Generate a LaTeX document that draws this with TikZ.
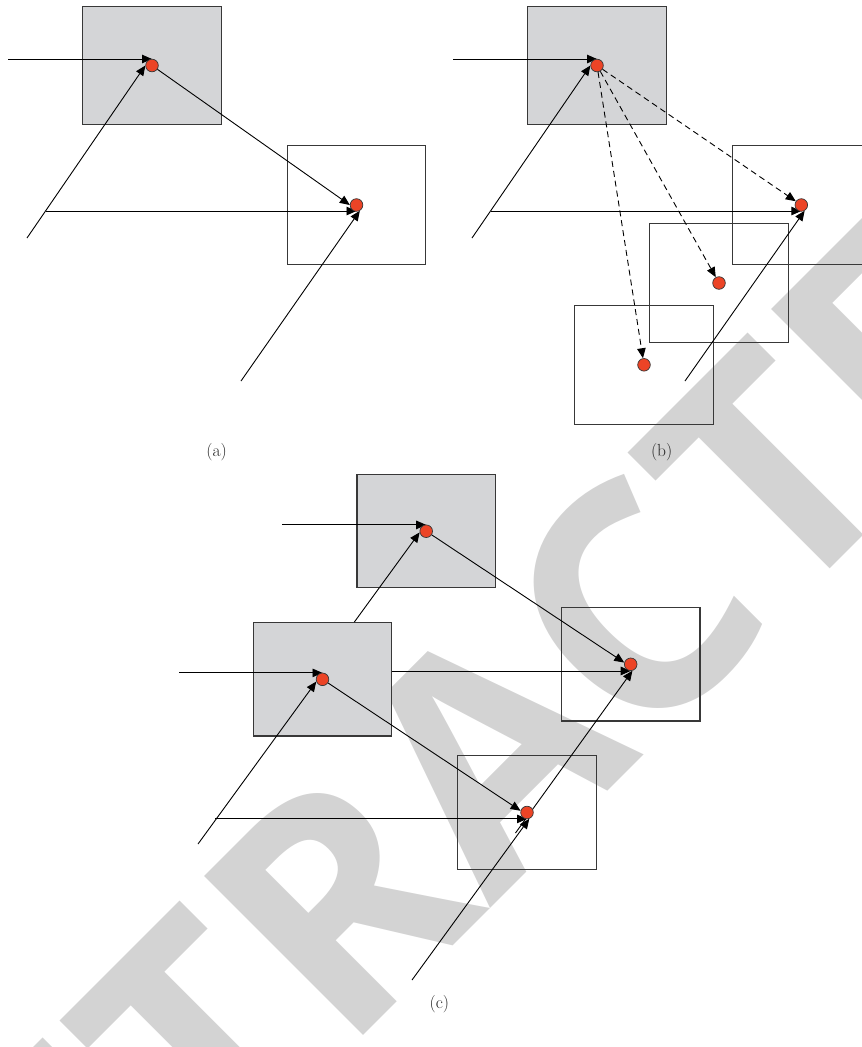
\documentclass[tikz,border=0pt]{standalone}
\usepackage{fontspec}
\usepackage{xcolor}
\usepackage{tikz}
\usetikzlibrary{arrows.meta,calc}
\newfontfamily\stampfont{Open Sans}
\definecolor{boxgray}{HTML}{D4D5D7}
\definecolor{stampgray}{HTML}{D3D3D3}
\definecolor{dotred}{HTML}{EC4426}
\definecolor{rim}{HTML}{383838}
\pgfdeclarelayer{front}
\pgfsetlayers{main,front}
\tikzset{
  openbox/.style={draw=rim,line width=1.1pt,inner sep=0pt,
    minimum width=138.5pt,minimum height=118.6pt},
  graybox/.style={openbox,fill=boxgray},
  cbox/.style={minimum height=113.4pt},
  reddot/.style={circle,draw=rim,line width=.7pt,fill=dotred,
    inner sep=0pt,minimum size=12.6pt},
  arr/.style={draw=black,line width=.9pt,-{Triangle[length=10pt,width=8.5pt]}},
  dasharr/.style={arr,dash pattern=on 6pt off 4pt},
  panel/.style={font=\fontsize{17.5}{20}\selectfont,text=black!85},
  stamp/.style={anchor=base,rotate=45,inner sep=0pt,text=stampgray,
    font=\stampfont\bfseries\fontsize{315}{315}\selectfont}
}

\begin{document}
\begin{tikzpicture}[x=1pt,y=-1pt]
    \useasboundingbox (0,0) rectangle (862,1047);
    \node[stamp] (stamp) at (572,827) {RETRACTED};
    % (a)
    \node[graybox] (a1) at (152,65.5) {};
    \node[openbox] (a2) at (356.5,205) {};
    % (b)
    \node[graybox] (b1) at (597,65.5) {};
    \node[openbox] (b2) at (801.3,205) {};
    \node[openbox] (b3) at (719,283) {};
    \node[openbox] (b4) at (644,364.8) {};
    % (c)
    \node[graybox,cbox] (c1) at (426.2,531.2) {};
    \node[graybox,cbox] (c2) at (322.5,679.3) {};
    \node[openbox,cbox] (c3) at (630.7,664.3) {};
    \node[openbox,cbox] (c4) at (527,812.5) {};
    \begin{pgfonlayer}{front}
      \foreach \b in {a1,a2,b1,b2,b3,b4,c1,c2,c3,c4}
        \node[reddot] (\b-dot) at (\b) {};
    \end{pgfonlayer}

    \coordinate (a1in) at (8,59);
    \coordinate (a1lo) at (27,238);
    \coordinate (a2in) at (46,211);
    \coordinate (a2lo) at (241,381);
    \draw[arr] (a1in) -- (a1in -| a1-dot);
    \draw[arr] (a1lo) -- (a1-dot.west);
    \draw[arr] (a2in) -- (a2in -| a2-dot);
    \draw[arr] (a2lo) -- (a2-dot.-60);
    \draw[arr] (a1-dot) -- (a2-dot.west);

    \coordinate (b1in) at (453,59);
    \coordinate (b1lo) at (472,238);
    \coordinate (b2in) at (491,211);
    \coordinate (b2lo) at (685,381);
    \draw[arr] (b1in) -- (b1in -| b1-dot);
    \draw[arr] (b1lo) -- (b1-dot.west);
    \draw[arr] (b2in) -- (b2in -| b2-dot);
    \draw[arr] (b2lo) -- (b2-dot.-60);
    \foreach \t in {b2,b3,b4}
      \draw[dasharr] (b1-dot) -- (\t-dot);

    \coordinate (c1in) at (282,524.9);
    \coordinate (c2top) at ($(c2.north west)!.728!(c2.north east)$);
    \coordinate (c2in) at (179,672.9);
    \coordinate (c2lo) at (198,844);
    \coordinate (c4in) at (215.4,818.9);
    \coordinate (c4lo) at (412,980);
    \coordinate (c4tail) at (515.5,833);
    \draw[arr] (c1in) -- (c1in -| c1-dot);
    \draw[arr] (c2top) -- (c1-dot.190);
    \draw[arr] (c2in) -- (c2in -| c2-dot);
    \draw[arr] (c2lo) -- (c2-dot.200);
    \draw[arr] (c2.east |- c3-dot.south) -- (c3-dot.south);
    \draw[arr] (c1-dot) -- (c3-dot.165);
    \draw[arr] (c2-dot) -- (c4-dot.165);
    \draw[arr] (c4in) -- (c4in -| c4-dot);
    \draw[arr] (c4lo) -- (c4-dot.-70);
    \draw[arr] (c4tail) -- (c3-dot.-75);

    \node[panel] (la) at (216.7,451.7) {(a)};
    \node[panel] (lb) at (661.7,451.7) {(b)};
    \node[panel] (lc) at (439.3,1004.6) {(c)};
\end{tikzpicture}
\end{document}
